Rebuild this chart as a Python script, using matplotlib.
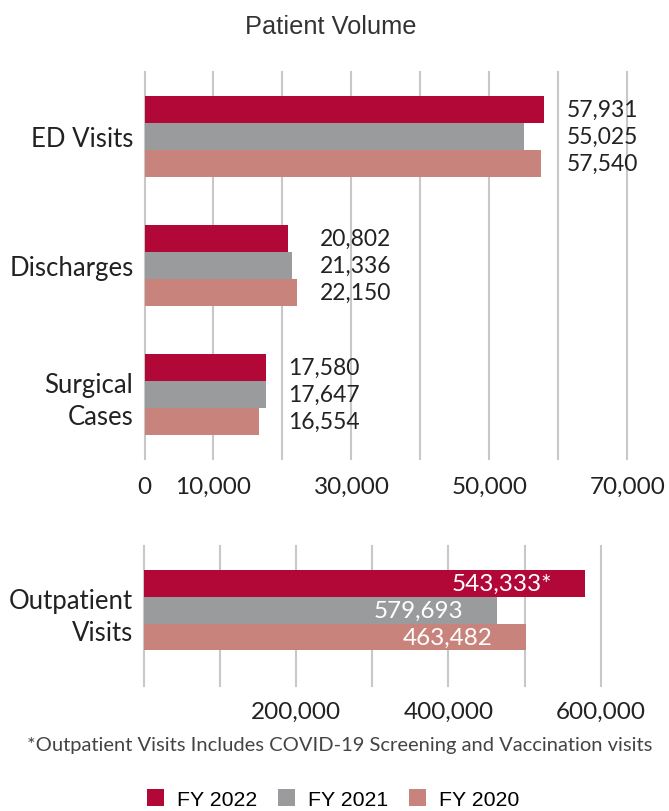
import matplotlib.pyplot as plt
from matplotlib.patches import Patch

# Series names and colours
years = ["FY 2022", "FY 2021", "FY 2020"]
colors = ["#b20838", "#9a9b9d", "#c8847c"]

# Top panel
categories = ["ED Visits", "Discharges", "Surgical\nCases"]
fy2022 = [57931, 20802, 17580]
fy2021 = [55025, 21336, 17647]
fy2020 = [57540, 22150, 16554]
top_ticks = [0, 10000, 20000, 30000, 40000, 50000, 60000, 70000]
top_tick_labels = ["0", "10,000", "", "30,000", "", "50,000", "", "70,000"]

# Bottom panel (bar lengths as drawn; printed labels differ in the source)
outpatient_category = "Outpatient\nVisits"
outpatient_bars = [579693, 463482, 502000]
outpatient_text = ["543,333*", "579,693", "463,482"]
bottom_ticks = [0, 100000, 200000, 300000, 400000, 500000, 600000]
bottom_tick_labels = ["", "", "200,000", "", "400,000", "", "600,000"]

footnote = "*Outpatient Visits Includes COVID-19 Screening and Vaccination visits"

plt.rcParams["font.family"] = ["Lato", "DejaVu Sans"]
TEXT = "#222222"
GRID = "#c8c8c8"

W, H = 669, 812
fig = plt.figure(figsize=(W / 100, H / 100), dpi=100)


def px_axes(left, top, right, bottom):
    """Add axes given pixel edges."""
    return fig.add_axes([left / W, 1 - bottom / H, (right - left) / W, (bottom - top) / H])


def style(ax, ticks, labels, pad):
    ax.set_xticks(ticks)
    ax.set_xticklabels(labels, fontsize=17.5, color=TEXT)
    ax.tick_params(axis="x", length=0, pad=pad)
    ax.tick_params(axis="y", length=0, pad=8, labelsize=18.5, labelcolor=TEXT)
    ax.grid(axis="x", color=GRID, linewidth=1.5)
    ax.set_axisbelow(True)
    for line in ax.get_xgridlines():
        line.set_clip_on(False)
    for s in ax.spines.values():
        s.set_visible(False)


# ---- top panel ----
ax = px_axes(144.5, 73, 627.4, 460)
h = 0.2085
series = [fy2022, fy2021, fy2020]
for i, vals in enumerate(series):
    ys = [c + (i - 1) * h for c in range(len(categories))]
    ax.barh(ys, vals, height=h, color=colors[i], linewidth=0)
ax.set_xlim(0, 70000)
ax.set_ylim(2.5, -0.5)
ax.set_yticks(range(len(categories)))
ax.set_yticklabels(categories, linespacing=1.35)
for c in range(len(categories)):
    top = max(s[c] for s in series)
    for i, vals in enumerate(series):
        ax.annotate(f"{vals[c]:,}", xy=(top, c + (i - 1) * h), xytext=(16, 0),
                    textcoords="offset points", ha="left", va="center",
                    fontsize=16.5, color=TEXT)
style(ax, top_ticks, top_tick_labels, 12)

# ---- bottom panel ----
ax2 = px_axes(143.8, 546.7, 600.8, 686.7)
for i, val in enumerate(outpatient_bars):
    ax2.barh([i - 1], [val], height=1.0, color=colors[i], linewidth=0)
    ax2.annotate(outpatient_text[i], xy=(val, i - 1), xytext=(-24, 0),
                 textcoords="offset points", ha="right", va="center",
                 fontsize=17.5, color="white")
ax2.set_xlim(0, 600000)
ax2.set_ylim(2.82, -2.42)
ax2.set_yticks([0])
ax2.set_yticklabels([outpatient_category], linespacing=1.35)
style(ax2, bottom_ticks, bottom_tick_labels, 11)

# ---- title, footnote, legend ----
fig.text(331 / W, 1 - 27 / H, "Patient Volume", ha="center", va="center",
         fontsize=18.3, color="#333333", family="Liberation Sans")
fig.text(340 / W, 1 - 746 / H, footnote, ha="center", va="center",
         fontsize=14.5, color="#444444")
handles = [Patch(facecolor=c, edgecolor="none", label=y) for c, y in zip(colors, years)]
fig.legend(handles=handles, loc="center", bbox_to_anchor=(333 / W, 1 - 800 / H),
           ncol=3, frameon=False, handlelength=0.8, handleheight=0.8,
           handletextpad=0.6, columnspacing=1.0,
           prop={"family": "Liberation Sans", "size": 15.3})

fig.savefig("out.png", dpi=100)
